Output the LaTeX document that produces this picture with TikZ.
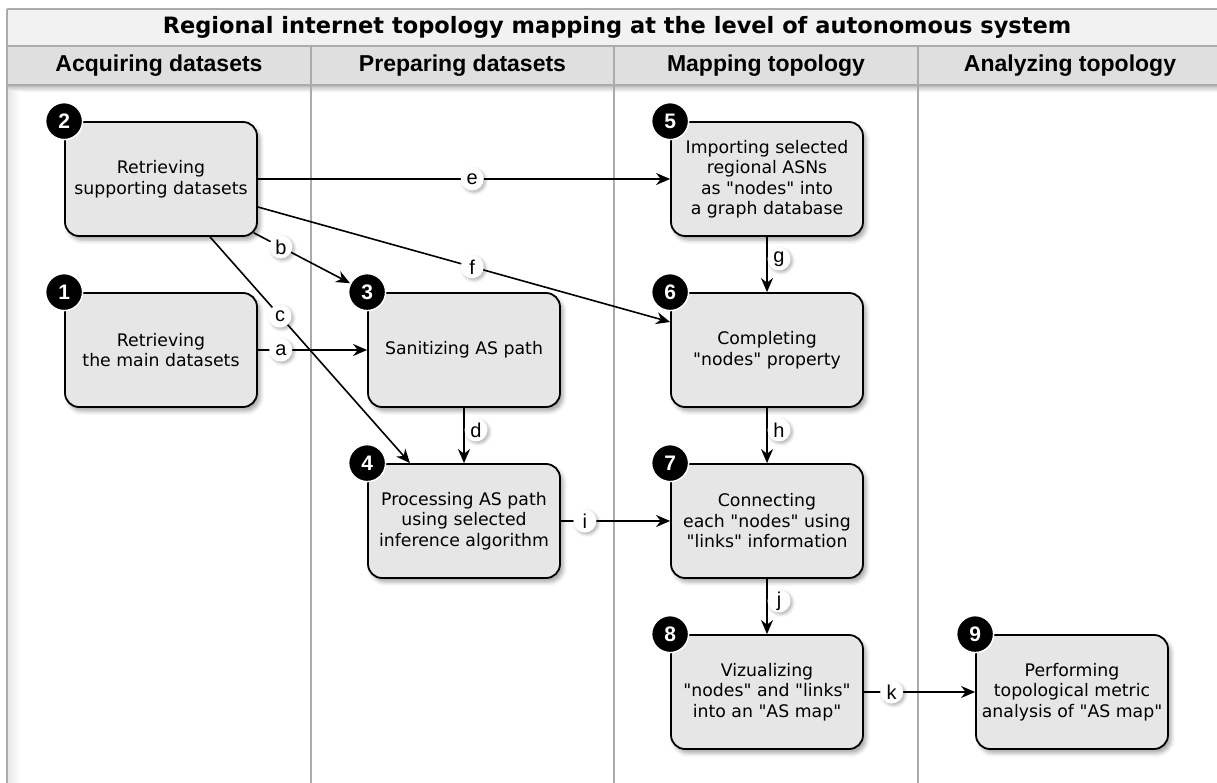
\documentclass[tikz,border=0pt]{standalone}
\usepackage{fontspec}
\setmainfont{DejaVu Sans}[Ligatures=TeXOff]
\newfontfamily\arialfont{Liberation Sans}
\usetikzlibrary{arrows.meta,calc,shadows.blur}
\definecolor{boxfill}{HTML}{E6E6E6}
\definecolor{bandfill}{HTML}{F2F2F2}
\definecolor{headfill}{HTML}{DFDFDF}
\definecolor{rulegray}{HTML}{ABABAB}
\tikzset{
  stepbox/.style={draw=black, line width=1.8pt, fill=boxfill, rounded corners=14pt,
    minimum width=192pt, minimum height=114pt, align=center, inner sep=2pt,
    font=\fontsize{17.3}{20.5}\selectfont,
    blur shadow={shadow xshift=3pt, shadow yshift=-4pt, shadow blur radius=4pt, shadow opacity=35}},
  numdot/.style={circle, fill=black, draw=white, line width=1.5pt, minimum size=37pt,
    inner sep=0pt, text=white, font=\arialfont\bfseries\fontsize{21}{21}\selectfont},
  lbl/.style={circle, fill=white, minimum size=23pt, inner sep=0pt,
    font=\arialfont\fontsize{20}{20}\selectfont,
    blur shadow={shadow xshift=2pt, shadow yshift=-2pt, shadow blur radius=3pt, shadow opacity=30}},
  conn/.style={line width=1.6pt, -{Stealth[length=14pt,width=12pt]}},
  rule/.style={draw=rulegray, line width=1.4pt},
  colhead/.style={font=\arialfont\bfseries\fontsize{23}{23}\selectfont},
}
\begin{document}
\begin{tikzpicture}[x=1pt,y=-1pt]
\useasboundingbox (0,0) rectangle (1217,783);
\clip (0,0) rectangle (1217,783);

% swimlane frame
\fill[bandfill] (7,9) rectangle (1230,46);
\fill[headfill] (7,46) rectangle (1230,85);
\shade[top color=gray!55, bottom color=white] (7,85) rectangle (1230,92);
\shade[left color=gray!18, right color=white] (8,92) rectangle (20,783);
\draw[rule] (7,9) -- (1230,9);
\draw[rule] (7,46) -- (1230,46);
\draw[rule] (7,85) -- (1230,85);
\draw[rule] (7,9) -- (7,783);
\foreach \xx in {311,614,918} \draw[rule, line width=1.2pt] (\xx,46) -- (\xx,783);

\node[font=\bfseries\fontsize{22.5}{22.5}\selectfont] (title) at (617,27.5)
  {Regional internet topology mapping at the level of autonomous system};
\node[colhead] (h1) at (159,66) {Acquiring datasets};
\node[colhead] (h2) at (462.5,66) {Preparing datasets};
\node[colhead] (h3) at (766,66) {Mapping topology};
\node[colhead] (h4) at (1070,66) {Analyzing topology};

% process steps
\node[stepbox] (b2) at (161,179) {Retrieving\\supporting datasets};
\node[stepbox] (b1) at (161,350) {Retrieving\\the main datasets};
\node[stepbox] (b3) at (464,350) {Sanitizing AS path};
\node[stepbox] (b4) at (464,521) {Processing AS path\\using selected\\inference algorithm};
\node[stepbox] (b5) at (767,179) {Importing selected\\regional ASNs\\as "nodes" into\\a graph database};
\node[stepbox] (b6) at (767,350) {Completing\\"nodes" property};
\node[stepbox] (b7) at (767,521) {Connecting\\each "nodes" using\\"links" information};
\node[stepbox] (b8) at (767,692) {Vizualizing\\"nodes" and "links"\\into an "AS map"};
\node[stepbox] (b9) at (1072,692) {Performing\\topological metric\\analysis of "AS map"};

% step numbers
\foreach \k in {1,...,9} \node[numdot] (n\k) at (b\k.north west) {\k};

% connectors
\draw[conn] (b2.east) -- (b5.west) node[lbl, pos=0.52] {e};
\draw[conn] ($(b2.east)+(0,28)$) -- ($(b6.west)+(0,-28)$) node[lbl, pos=0.52] {f};
\draw[conn] ($(b2.south)+(49,0)$) -- ($(b4.north)+(-54,0)$) node[lbl, pos=0.35] {c};
\draw[conn] ($(b2.south east)+(-4,-4)$) -- (n3) node[lbl, pos=0.28] {b};
\draw[conn] (b1.east) -- (b3.west) node[lbl, pos=0.21] {a};
\draw[conn] (b4.east) -- (b7.west) node[lbl, pos=0.22] {i};
\draw[conn] (b8.east) -- (b9.west) node[lbl, pos=0.25] {k};
\draw[conn] (b3.south) -- (b4.north);
\draw[conn] (b5.south) -- (b6.north);
\draw[conn] (b6.south) -- (b7.north);
\draw[conn] (b7.south) -- (b8.north);
\node[lbl] (ld) at ($(b3.south)!0.4!(b4.north)+(12,0)$) {d};
\node[lbl] (lg) at ($(b5.south)!0.4!(b6.north)+(12,0)$) {g};
\node[lbl] (lh) at ($(b6.south)!0.4!(b7.north)+(12,0)$) {h};
\node[lbl] (lj) at ($(b7.south)!0.4!(b8.north)+(12,0)$) {j};
\end{tikzpicture}
\end{document}
